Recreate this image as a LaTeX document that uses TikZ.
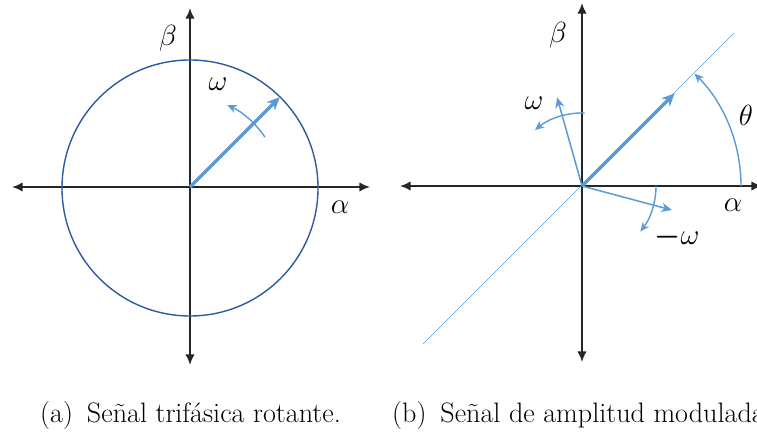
\documentclass[tikz,border=0pt]{standalone}
\usepackage{amsmath,amssymb}
\usepackage{xcolor}
\usepackage{tikz}
\usetikzlibrary{arrows.meta}

\definecolor{vecblue}{RGB}{91,155,213}
\definecolor{circblue}{RGB}{47,90,160}
\definecolor{axisgray}{RGB}{38,38,38}

\tikzset{
  axis/.style={draw=axisgray,line width=1.6pt,{Latex[length=9pt,width=8pt]}-{Latex[length=9pt,width=8pt]}},
  mainvec/.style={draw=vecblue,line width=3pt,-{Stealth[length=11pt,width=10pt]}},
  thinvec/.style={draw=vecblue,line width=1.3pt,-{Stealth[length=9pt,width=8pt]}},
  turn/.style={draw=vecblue,line width=1.2pt,-{Stealth[length=8pt,width=7pt]}},
  lbl/.style={font=\fontsize{26}{30}\selectfont},
  captext/.style={font=\fontsize{24}{29}\selectfont,anchor=base west,inner sep=0pt}
}

\begin{document}
\begin{tikzpicture}[x=0.03cm,y=0.03cm]
  \useasboundingbox (0,0) rectangle (757,432);

  % (a) rotating three-phase signal
  \coordinate (Oa) at (190,245);
  \draw[axis] (12,245) -- (370,245);
  \draw[axis] (190,67) -- (190,424);
  \draw[circblue,line width=1.2pt] (190,244) circle (128);
  \draw[mainvec] (Oa) -- ++(45:127);
  \draw[turn] ([shift={(33.7:90)}]Oa) arc (33.7:65.5:90);
  \node[lbl] (betaa) at (168,394) {$\beta$};
  \node[lbl] (alphaa) at (340,225) {$\alpha$};
  \node[lbl] (omegaa) at (218,348) {$\omega$};

  % (b) amplitude modulated signal
  \coordinate (Ob) at (582,246);
  \draw[axis] (400,246) -- (762,246);
  \draw[axis] (582,70) -- (582,429);
  \draw[vecblue,line width=0.6pt] (423,88) -- (734,399);
  \draw[mainvec] (Ob) -- ++(45:131);
  \draw[turn] ([shift={(0:159)}]Ob) arc (0:45:159);
  \draw[thinvec] (Ob) -- ++(105.7:92);
  \draw[turn] ([shift={(88:73)}]Ob) arc (88:130:73);
  \draw[thinvec] (Ob) -- ++(-15:93);
  \draw[turn] ([shift={(0:74)}]Ob) arc (0:-38:74);
  \node[lbl] (betab) at (558,397) {$\beta$};
  \node[lbl] (alphab) at (733,227) {$\alpha$};
  \node[lbl] (thetab) at (746,317) {$\theta$};
  \node[lbl] (omegab) at (534,329) {$\omega$};
  \node[lbl] (momegab) at (677,195) {$\boldsymbol{-}\omega$};

  % captions
  \node[captext] (capa) at (40,9) {(a)\hspace{11.9pt}Señal trifásica rotante.};
  \node[captext] (capb) at (392,9) {(b)\hspace{11.9pt}Señal de amplitud modulada};
\end{tikzpicture}
\end{document}
